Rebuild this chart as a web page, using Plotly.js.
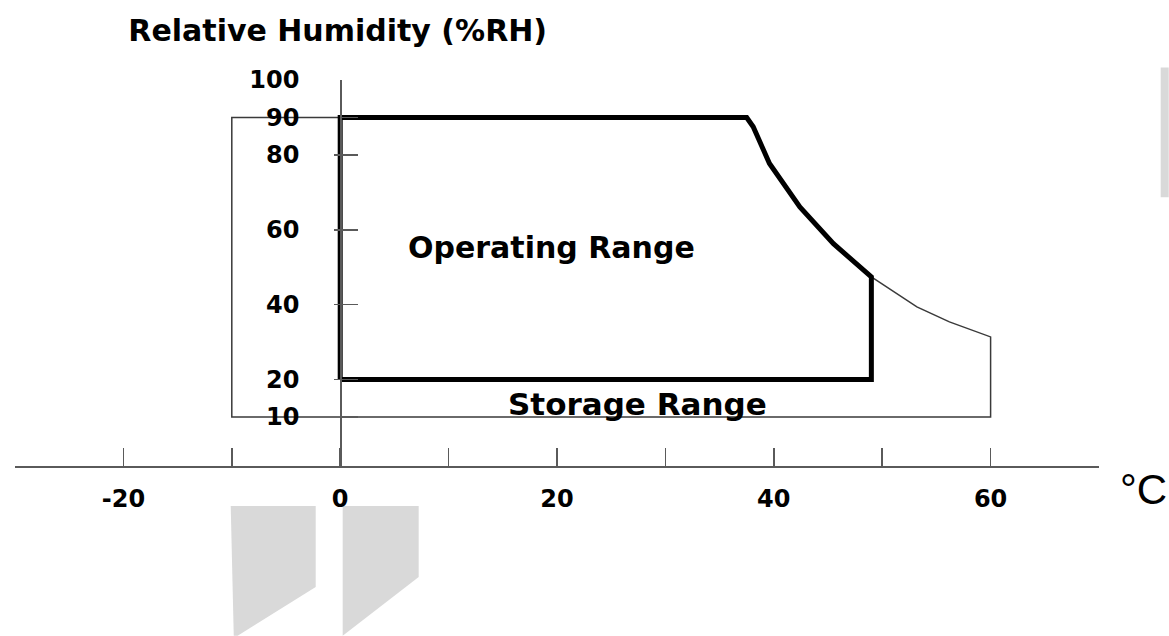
<!DOCTYPE html>
<html>
<head>
<meta charset="utf-8">
<script src="https://cdn.plot.ly/plotly-3.0.1.min.js"></script>
<style>html,body{margin:0;padding:0;background:#fff;}#chart{width:1169px;height:636px;}</style>
</head>
<body>
<div id="chart"></div>
<script>
// ---- data ----
const tempTicks = [-30, -20, -10, 0, 10, 20, 30, 40, 50, 60, 70];
const tempLabels = ['', '-20', '', '0', '', '20', '', '40', '', '60', ''];
const rhTicks = [10, 20, 40, 60, 80, 90, 100];
const rhLabels = ['10', '20', '40', '60', '80', '90', '100'];

const operatingTemp = [0, 0, 37.5, 38.1, 39.6, 42.4, 45.5, 49, 49, 0];
const operatingRH   = [20, 90, 90, 87.5, 77.7, 66.1, 56.3, 47.4, 20, 20];

const storageTemp = [49, 53.2, 56.2, 60, 60, -10, -10, 0];
const storageRH   = [47.4, 39.4, 35.4, 31.4, 10, 10, 90, 90];

// ---- layout geometry ----
const W = 1169, H = 636;
const mL = 15.3, mR = 69.7, mT = 79.65, mB = 170;
const plotW = W - mL - mR, plotH = H - mT - mB;
function px(x) { return (x - mL) / plotW; }
function py(y) { return (H - mB - y) / plotH; }
function poly(pts) {
  return pts.map((p, i) => (i ? 'L' : 'M') + px(p[0]).toFixed(4) + ',' + py(p[1]).toFixed(4)).join(' ') + ' Z';
}

const bold = {family: 'DejaVu Sans', weight: 'bold', color: '#000'};
const axisColor = '#5a5a5a';

const traces = [
  {x: storageTemp, y: storageRH, type: 'scatter', mode: 'lines',
   line: {color: '#3a3a3a', width: 1.5}, hoverinfo: 'skip'},
  {x: operatingTemp, y: operatingRH, type: 'scatter', mode: 'lines',
   line: {color: '#000', width: 5}, hoverinfo: 'skip'}
];

const grayFill = '#d9d9d9';
const layout = {
  width: W, height: H,
  margin: {l: mL, r: mR, t: mT, b: mB, pad: 0, autoexpand: false},
  paper_bgcolor: '#fff', plot_bgcolor: '#fff',
  showlegend: false, hovermode: false,
  title: {
    text: 'Relative Humidity (%RH)',
    x: 337.7 / W, xref: 'container', xanchor: 'center',
    y: 1 - 30 / H, yref: 'container', yanchor: 'middle',
    font: Object.assign({size: 30}, bold)
  },
  xaxis: {
    range: [-30, 70], showgrid: false, zeroline: false,
    showline: true, linecolor: axisColor, linewidth: 1.5,
    tickmode: 'array', tickvals: tempTicks, ticktext: tempLabels,
    ticks: 'inside', ticklen: 18, tickwidth: 1.5, tickcolor: axisColor,
    ticklabelstandoff: 11,
    tickfont: Object.assign({size: 24}, bold),
    fixedrange: true
  },
  yaxis: {
    range: [-3.07, 100], showgrid: false, zeroline: false,
    anchor: 'free', position: 0.3,
    showline: true, linecolor: axisColor, linewidth: 1.5,
    tickmode: 'array', tickvals: rhTicks, ticktext: rhLabels,
    ticks: 'inside', ticklen: 16, tickwidth: 1.5, tickcolor: axisColor,
    minor: {tickmode: 'array', tickvals: [20, 40, 60, 80], ticks: 'outside', ticklen: 6, tickwidth: 1.5, tickcolor: axisColor},
    ticklabelstandoff: 36,
    tickfont: Object.assign({size: 24}, bold),
    fixedrange: true
  },
  annotations: [
    {text: 'Operating Range', xref: 'x', yref: 'y', x: 19.5, y: 55.4,
     showarrow: false, xanchor: 'center', yanchor: 'middle',
     font: Object.assign({size: 30}, bold)},
    {text: 'Storage Range', xref: 'x', yref: 'y', x: 27.4, y: 13.4,
     showarrow: false, xanchor: 'center', yanchor: 'middle',
     font: Object.assign({size: 31}, bold)},
    {text: '°C', xref: 'paper', yref: 'paper', x: px(1144), y: py(490),
     showarrow: false, xanchor: 'center', yanchor: 'middle',
     font: {family: 'Liberation Sans', size: 42, color: '#000'}}
  ],
  shapes: [
    {type: 'path', xref: 'paper', yref: 'paper', layer: 'below', line: {width: 0}, fillcolor: grayFill,
     path: poly([[1161, 67], [1169, 67], [1169, 197], [1161, 197]])},
    {type: 'path', xref: 'paper', yref: 'paper', layer: 'below', line: {width: 0}, fillcolor: grayFill,
     path: poly([[231, 506], [316, 506], [316, 587], [238, 636], [234, 636]])},
    {type: 'path', xref: 'paper', yref: 'paper', layer: 'below', line: {width: 0}, fillcolor: grayFill,
     path: poly([[343, 506], [419, 506], [419, 577], [343, 636]])}
  ]
};

Plotly.newPlot('chart', traces, layout, {displayModeBar: false, staticPlot: true});
</script>
</body>
</html>
